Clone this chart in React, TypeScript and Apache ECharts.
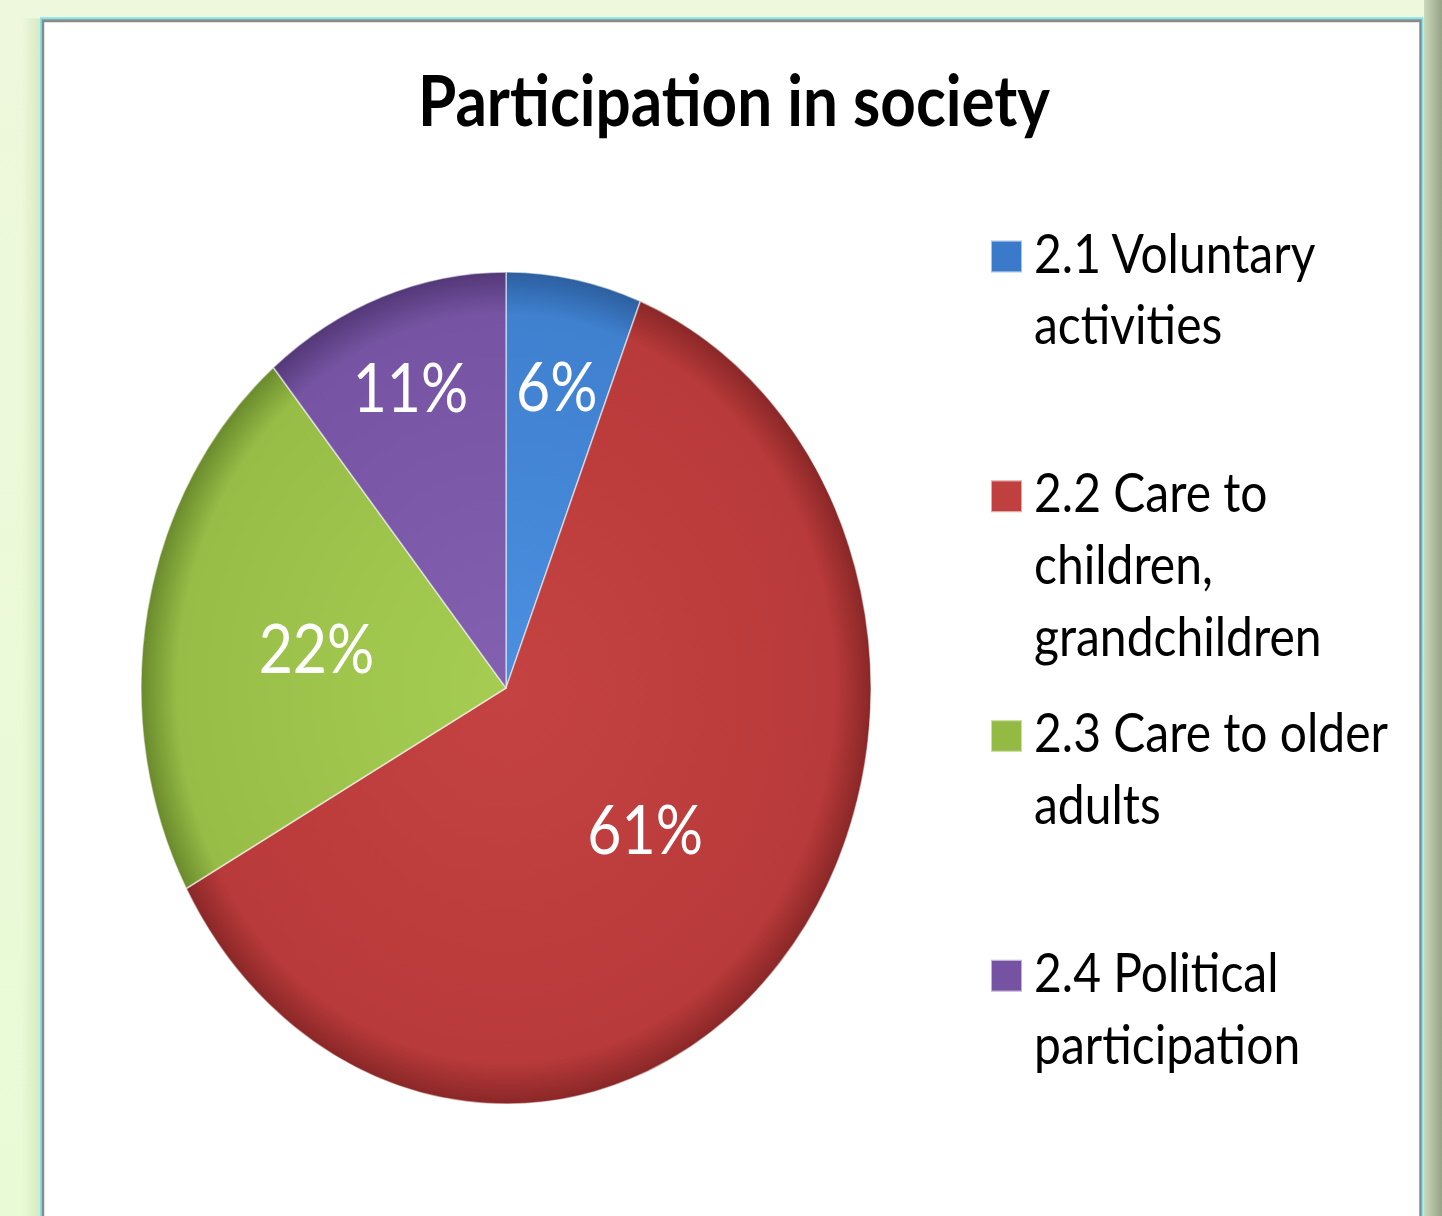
import React, { useEffect, useRef } from "react";
import * as echarts from "echarts";

// ---- data ----
const categories = [
  "2.1 Voluntary activities",
  "2.2 Care to children, grandchildren",
  "2.3 Care to older adults",
  "2.4 Political participation",
];
const legendLines = [
  "2.1 Voluntary\nactivities",
  "2.2 Care to\nchildren,\ngrandchildren",
  "2.3 Care to older\nadults",
  "2.4 Political\nparticipation",
];
const values = [6, 61, 22, 11];
const titleText = "Participation in society";

// ---- styles ----
const baseColors = ["#3f80cf", "#b93a3a", "#97bd47", "#7654a3"];
const lightColors = ["#4c8fe0", "#c44242", "#a6cd52", "#8361b0"];
const darkColors = ["#2c5f9f", "#8a2727", "#6a8a2c", "#533878"];
const legendColors = ["#3b7acb", "#c03f3f", "#93ba43", "#7652a3"];
const labelRadius = [0.73, 0.5, 0.52, 0.76];

const SY = 1.14;
const W = 1442;
const H = 1216;
const CH = H / SY;
const CX = 506;
const CY = 603.5;
const R = 365;

export default function App() {
  const ref = useRef<HTMLDivElement>(null);
  useEffect(() => {
    if (!ref.current) return;
    const chart = echarts.init(ref.current, undefined, { renderer: "svg" });
    const legendIcon =
      "path://M0,0L0,0M0,22L31,22L31,50L0,50ZM38,189L38,189";
    chart.setOption({
      animation: false,
      backgroundColor: "transparent",
      title: {
        text: titleText,
        left: 418,
        top: 55,
        padding: 0,
        textStyle: {
          fontFamily: "Lato",
          fontWeight: "bold",
          fontSize: 62,
          color: "#000",
        },
      },
      graphic: [
        {
          type: "rect",
          z: 0,
          shape: { x: 1424, y: 0, width: 18, height: CH },
          style: {
            fill: new echarts.graphic.LinearGradient(0, 0, 1, 0, [
              { offset: 0, color: "#cbd8ba" },
              { offset: 1, color: "#96a386" },
            ]),
          },
        },
        {
          type: "rect",
          z: 0,
          shape: { x: 22, y: 16, width: 19, height: CH },
          style: {
            fill: new echarts.graphic.LinearGradient(0, 0, 1, 0, [
              { offset: 0, color: "rgba(214,232,192,0)" },
              { offset: 1, color: "#d6e9c2" },
            ]),
          },
        },
        {
          type: "rect",
          z: 0,
          shape: { x: 41, y: 16.2, width: 1381.5, height: 1100 },
          style: { fill: "none", stroke: "#7ee6ee", lineWidth: 2 },
        },
        {
          type: "rect",
          z: 0,
          shape: { x: 43, y: 18.2, width: 1377.5, height: 1100 },
          style: { fill: "#ffffff", stroke: "#8a8a8a", lineWidth: 2.5 },
        },
      ],
      legend: {
        orient: "vertical",
        left: 990,
        top: 188,
        padding: 0,
        itemWidth: 38,
        itemHeight: 189,
        itemGap: 19.3,
        icon: legendIcon,
        selectedMode: false,
        data: categories.map((n, i) => ({
          name: n,
          itemStyle: { color: legendColors[i] },
        })),
        formatter: (name: string) => {
          const idx = categories.indexOf(name);
          const text = legendLines[idx];
          const n = text.split("\n").length;
          return n < 3 ? text + "\n ".repeat(3 - n) : text;
        },
        textStyle: {
          fontFamily: "Lato",
          fontSize: 48,
          lineHeight: 63,
          color: "#000",
        },
      },
      series: [
        {
          type: "pie",
          center: [CX, CY],
          radius: R,
          startAngle: 90,
          clockwise: true,
          silent: true,
          emphasis: { disabled: true },
          itemStyle: {
            borderColor: "rgba(255,255,255,0.55)",
            borderWidth: 1.5,
          },
          label: {
            show: true,
            position: "inside",
            formatter: (p: any) => p.value + "%",
            color: "#fff",
            fontFamily: "Lato",
            fontSize: 59,
          },
          labelLine: { show: false },
          labelLayout: (params: any) => {
            const k = labelRadius[params.dataIndex] / 0.5 - 1;
            const r = params.labelRect;
            const lx = r.x + r.width / 2;
            const ly = r.y + r.height / 2;
            return { dx: (lx - CX) * k, dy: (ly - CY) * k };
          },
          data: categories.map((n, i) => ({
            name: n,
            value: values[i],
            itemStyle: {
              color: {
                type: "radial",
                x: CX,
                y: CY,
                r: R,
                global: true,
                colorStops: [
                  { offset: 0, color: lightColors[i] },
                  { offset: 0.9, color: baseColors[i] },
                  { offset: 1, color: darkColors[i] },
                ],
              },
            },
          })),
        },
      ],
    });
    return () => chart.dispose();
  }, []);
  return (
    <div
      style={{
        position: "fixed",
        left: 0,
        top: 0,
        width: W,
        height: H,
        overflow: "hidden",
        background: "linear-gradient(to bottom, #eef8dc 0%, #e8fbd6 100%)",
      }}
    >
      <div
        ref={ref}
        style={{
          width: W,
          height: CH,
          transform: `scaleY(${SY})`,
          transformOrigin: "0 0",
        }}
      />
    </div>
  );
}
